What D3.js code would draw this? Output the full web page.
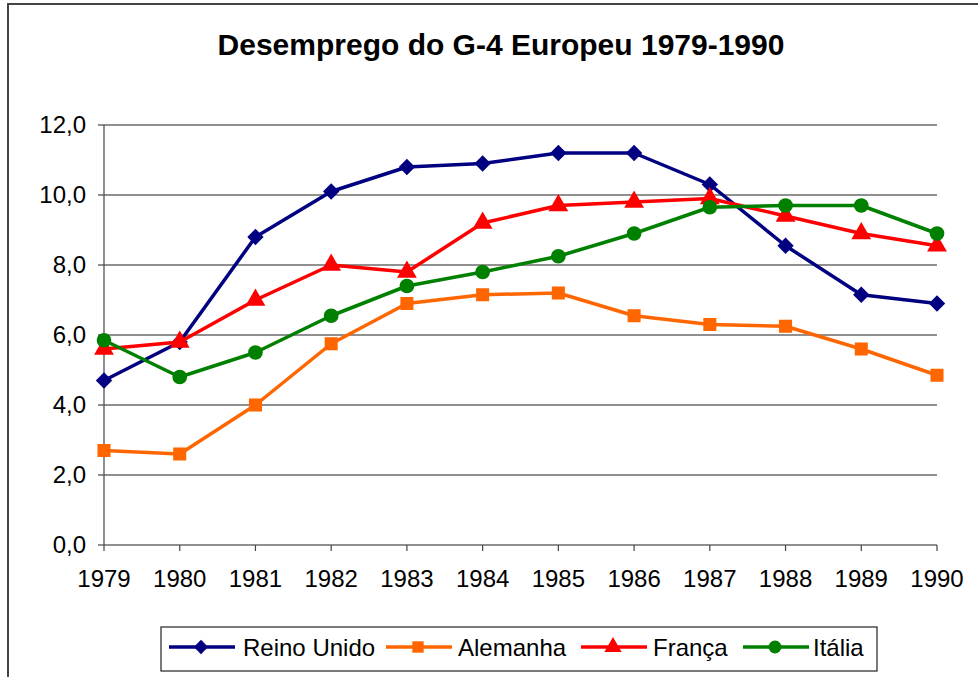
<!DOCTYPE html>
<html>
<head>
<meta charset="utf-8">
<script src="https://cdn.jsdelivr.net/npm/d3@7"></script>
<style>
  body { margin: 0; background: white; }
  text { font-family: 'Liberation Sans', Arial, sans-serif; }
</style>
</head>
<body>
<div id="chart"></div>
<script>
let years = [1979, 1980, 1981, 1982, 1983, 1984, 1985, 1986, 1987, 1988, 1989, 1990]
let reinoUnido = [4.7, 5.8, 8.8, 10.1, 10.8, 10.9, 11.2, 11.2, 10.3, 8.55, 7.15, 6.9]
let alemanha = [2.7, 2.6, 4.0, 5.75, 6.9, 7.15, 7.2, 6.55, 6.3, 6.25, 5.6, 4.85]
let franca = [5.6, 5.8, 7.0, 8.0, 7.8, 9.2, 9.7, 9.8, 9.9, 9.4, 8.9, 8.55]
let italia = [5.85, 4.8, 5.5, 6.55, 7.4, 7.8, 8.25, 8.9, 9.65, 9.7, 9.7, 8.9]
let yTicks = [0, 2, 4, 6, 8, 10, 12]

let series = [
  { name: 'Reino Unido', values: reinoUnido, color: '#000080', symbol: d3.symbolDiamond2 },
  { name: 'Alemanha', values: alemanha, color: '#FF6600', symbol: d3.symbolSquare },
  { name: 'França', values: franca, color: '#FF0000', symbol: d3.symbolTriangle },
  { name: 'Itália', values: italia, color: '#008000', symbol: d3.symbolCircle }
]

let W = 978
let H = 677
let margin = { top: 125, left: 104, right: 41, bottom: 132 }
let width = W - margin.left - margin.right
let height = H - margin.top - margin.bottom

let root = d3
  .select('#chart')
  .append('svg')
  .attr('width', W)
  .attr('height', H)

// outer frame (only top and left show)
root
  .append('path')
  .attr('d', 'M8,' + H + 'V4H' + W)
  .attr('fill', 'none')
  .attr('stroke', '#444')
  .attr('stroke-width', 2)

root
  .append('text')
  .text('Desemprego do G-4 Europeu 1979-1990')
  .attr('x', 501)
  .attr('y', 55)
  .attr('font-size', 30)
  .attr('font-weight', 'bold')
  .attr('text-anchor', 'middle')

let svg = root
  .append('g')
  .attr('transform', 'translate(' + margin.left + ',' + margin.top + ')')

let x = d3.scalePoint().domain(years).range([0, width])
let y = d3.scaleLinear().domain([0, 12]).range([height, 0])

// gridlines
svg
  .selectAll('.grid')
  .data(yTicks)
  .enter()
  .append('line')
  .attr('x1', -6)
  .attr('x2', width)
  .attr('y1', d => y(d))
  .attr('y2', d => y(d))
  .attr('stroke', '#222')
  .attr('stroke-width', 1.2)

// y axis line
svg
  .append('line')
  .attr('x1', 0)
  .attr('x2', 0)
  .attr('y1', 0)
  .attr('y2', height)
  .attr('stroke', '#444')
  .attr('stroke-width', 1.2)

svg
  .selectAll('.ylab')
  .data(yTicks)
  .enter()
  .append('text')
  .text(d => d3.format('.1f')(d).replace('.', ','))
  .attr('x', -18)
  .attr('y', d => y(d) + 8)
  .attr('text-anchor', 'end')
  .attr('font-size', 24)

// x ticks
svg
  .selectAll('.xtick')
  .data(years)
  .enter()
  .append('line')
  .attr('x1', d => x(d))
  .attr('x2', d => x(d))
  .attr('y1', height)
  .attr('y2', height + 6)
  .attr('stroke', '#444')
  .attr('stroke-width', 1.2)

svg
  .selectAll('.xlab')
  .data(years)
  .enter()
  .append('text')
  .text(d => d)
  .attr('x', d => x(d))
  .attr('y', height + 42)
  .attr('text-anchor', 'middle')
  .attr('font-size', 24)

let line = d3
  .line()
  .x((d, i) => x(years[i]))
  .y(d => y(d))

series.forEach(s => {
  svg
    .append('path')
    .datum(s.values)
    .attr('d', line)
    .attr('fill', 'none')
    .attr('stroke', s.color)
    .attr('stroke-width', 3.5)
    .attr('stroke-linejoin', 'round')

  svg
    .selectAll('.pt')
    .data(s.values)
    .enter()
    .append('path')
    .attr('d', d3.symbol().type(s.symbol).size(170))
    .attr('fill', s.color)
    .attr('transform', (d, i) => `translate(${x(years[i])},${y(d)})`)
})

// legend
let legend = root.append('g')
legend
  .append('rect')
  .attr('x', 161)
  .attr('y', 627)
  .attr('width', 716)
  .attr('height', 44)
  .attr('fill', 'white')
  .attr('stroke', '#222')
  .attr('stroke-width', 1.2)

let legendX = [169, 386, 581, 743]
let legendText = [243, 458, 653, 813]
series.forEach((s, i) => {
  let g = legend.append('g')
  g.append('line')
    .attr('x1', legendX[i])
    .attr('x2', legendX[i] + 66)
    .attr('y1', 647)
    .attr('y2', 647)
    .attr('stroke', s.color)
    .attr('stroke-width', 3.5)
  g.append('path')
    .attr('d', d3.symbol().type(s.symbol).size(130))
    .attr('fill', s.color)
    .attr('transform', `translate(${legendX[i] + 32},647)`)
  g.append('text')
    .text(s.name)
    .attr('x', legendText[i])
    .attr('y', 656)
    .attr('font-size', 24)
})
</script>
</body>
</html>
